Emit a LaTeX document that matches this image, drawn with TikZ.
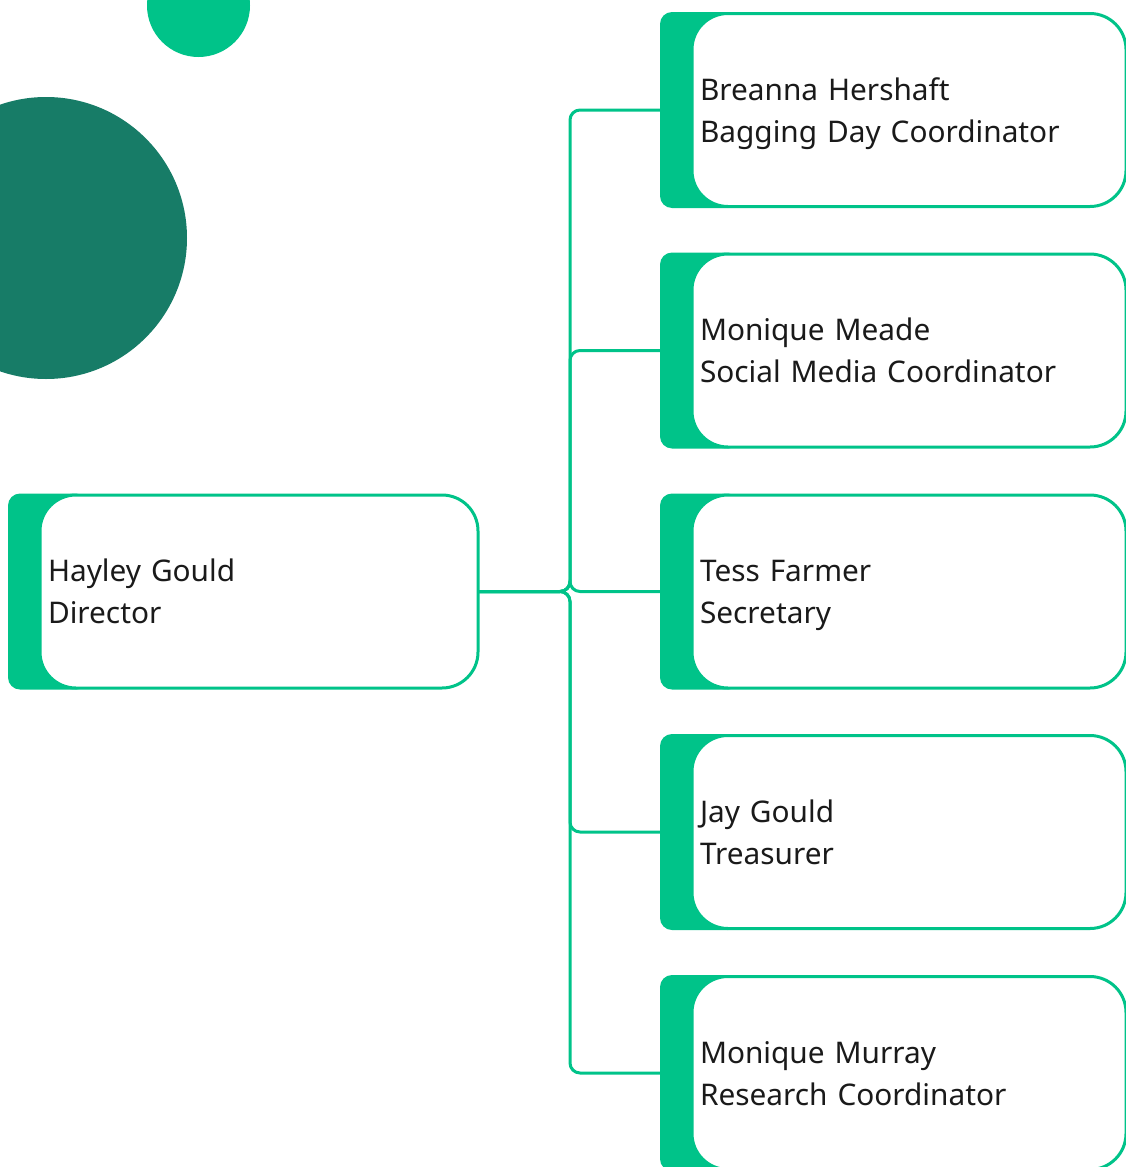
\documentclass[tikz,border=0pt]{standalone}
\usepackage{fontspec}
\setmainfont{Noto Sans}
\definecolor{brand}{RGB}{0,195,137}
\definecolor{deep}{RGB}{23,124,103}
\definecolor{ink}{RGB}{26,26,26}
\begin{document}
\begin{tikzpicture}[x=1pt,y=-1pt,
  backing/.style={fill=brand,draw=none,rounded corners=12pt,minimum width=80pt,minimum height=196pt,anchor=west,inner sep=0pt,outer sep=0pt},
  card/.style={fill=white,draw=brand,line width=3pt,rounded corners=36pt,minimum height=193pt,inner xsep=8pt,inner ysep=0pt,outer sep=0pt,anchor=west,align=left,text width=#1,text height=20pt,text depth=40pt,font=\fontsize{29.8}{42}\selectfont,text=ink},
  link/.style={draw=brand,line width=3pt,rounded corners=10pt}]
\useasboundingbox (0,0) rectangle (1125,1167);
% decorative circles
\fill[deep] (46,238) circle (141);
\fill[brand] (198.5,5.5) circle (51.5);
% director
\node[backing] (dback) at (8,591.5) {};
\node[card=422pt] (dir) at (40,591.5) {Hayley Gould\\Director};
% children
\foreach \i/\y/\name/\role in {1/110/Breanna Hershaft/Bagging Day Coordinator,
  2/350.5/Monique Meade/Social Media Coordinator,
  3/591.5/Tess Farmer/Secretary,
  4/832/Jay Gould/Treasurer,
  5/1073/Monique Murray/Research Coordinator}{
  \node[backing] (b\i) at (660,\y) {};
  \node[card=418pt] (c\i) at (692,\y) {\name\\\role};
}
% connectors
\coordinate (trunk) at (570,591.5);
\foreach \i in {1,...,5}{
  \draw[link] (dir.east) -- (trunk) |- (b\i.west);
}
\end{tikzpicture}
\end{document}
